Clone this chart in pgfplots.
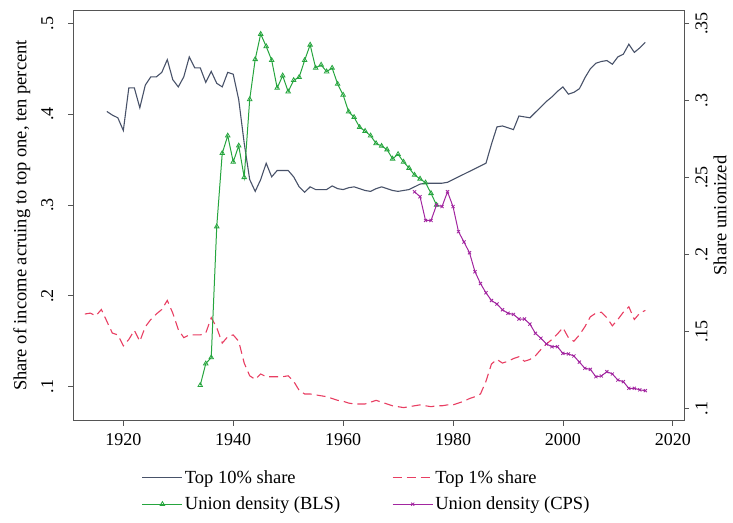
\documentclass[border=0pt]{standalone}
\usepackage{fontspec}
\setmainfont{Liberation Serif}
\usepackage{pgfplots}
\pgfplotsset{compat=1.18}

\definecolor{topten}{RGB}{72,82,105}
\definecolor{topone}{RGB}{232,62,98}
\definecolor{bls}{RGB}{38,165,62}
\definecolor{cps}{RGB}{162,38,160}
\definecolor{frame}{RGB}{85,85,85}

\pgfplotsset{
  common/.style={
    scale only axis, width=611pt, height=410pt,
    xmin=1910.84, xmax=2022.04,
    tick align=outside, major tick length=5pt,
    tick style={frame, line width=0.8pt},
    axis line style={frame, line width=0.9pt},
    tick label style={font=\fontsize{18}{21}\selectfont},
    legend image code/.code={\draw[mark repeat=2,mark phase=2,##1] plot coordinates {(0pt,0pt) (20pt,0pt) (40pt,0pt)};},
  },
  t10/.style={topten, line width=1.1pt},
  t1/.style={topone, line width=1.1pt, dash pattern=on 9pt off 5pt},
  blss/.style={bls, line width=1.0pt, mark=triangle, mark size=2.6pt, mark options={solid, line width=0.8pt}},
  cpss/.style={cps, line width=1.0pt, mark=x, mark size=2.2pt, mark options={solid, line width=0.8pt}},
}

\begin{document}
\begin{tikzpicture}
\path[use as bounding box] (-73pt,-101.5pt) rectangle (660pt,420.5pt);
\begin{axis}[
  common,
  ymin=0.0628, ymax=0.5141,
  xtick={1920,1940,1960,1980,2000,2020},
  xticklabels={1920,1940,1960,1980,2000,2020},
  ytick={0.1,0.2,0.3,0.4,0.5},
  yticklabels={.1,.2,.3,.4,.5},
  xtick pos=left, ytick pos=left,
  yticklabel style={rotate=90, anchor=south},
  yticklabel shift=11pt,
  xticklabel shift=4pt,
  ylabel={Share of income acruing to top one, ten percent},
  every axis y label/.style={at={(axis description cs:-0.0835,0.5)}, rotate=90, anchor=center, font=\fontsize{18.5}{22}\selectfont},
]
\addplot[t10] coordinates {
(1917,0.403) (1918,0.399) (1919,0.396) (1920,0.382) (1921,0.429) (1922,0.429)
(1923,0.407) (1924,0.432) (1925,0.441) (1926,0.441) (1927,0.446) (1928,0.460)
(1929,0.438) (1930,0.430) (1931,0.441) (1932,0.463) (1933,0.451) (1934,0.451)
(1935,0.435) (1936,0.447) (1937,0.434) (1938,0.430) (1939,0.446) (1940,0.444)
(1941,0.416) (1942,0.368) (1943,0.328) (1944,0.315) (1945,0.328) (1946,0.346)
(1947,0.331) (1948,0.338) (1949,0.338) (1950,0.338) (1951,0.331) (1952,0.320)
(1953,0.314) (1954,0.320) (1955,0.317) (1956,0.317) (1957,0.317) (1958,0.321)
(1959,0.318) (1960,0.317) (1961,0.319) (1962,0.320) (1963,0.318) (1964,0.316)
(1965,0.315) (1966,0.318) (1967,0.320) (1968,0.318) (1969,0.316) (1970,0.315)
(1971,0.316) (1972,0.317) (1973,0.320) (1974,0.323) (1975,0.324) (1976,0.324)
(1977,0.324) (1978,0.324) (1979,0.325) (1980,0.328) (1981,0.331) (1982,0.334)
(1983,0.337) (1984,0.340) (1985,0.343) (1986,0.346) (1987,0.367) (1988,0.386)
(1989,0.387) (1990,0.385) (1991,0.383) (1992,0.398) (1993,0.397) (1994,0.396)
(1995,0.402) (1996,0.408) (1997,0.414) (1998,0.419) (1999,0.425) (2000,0.430)
(2001,0.422) (2002,0.424) (2003,0.428) (2004,0.440) (2005,0.450) (2006,0.456)
(2007,0.458) (2008,0.459) (2009,0.455) (2010,0.463) (2011,0.466) (2012,0.477)
(2013,0.468) (2014,0.473) (2015,0.479)
};
\addplot[t1] coordinates {
(1913,0.180) (1914,0.181) (1915,0.178) (1916,0.185) (1917,0.172) (1918,0.159)
(1919,0.157) (1920,0.145) (1921,0.152) (1922,0.162) (1923,0.150) (1924,0.166)
(1925,0.174) (1926,0.180) (1927,0.185) (1928,0.195) (1929,0.181) (1930,0.163)
(1931,0.154) (1932,0.157) (1933,0.157) (1934,0.157) (1935,0.159) (1936,0.176)
(1937,0.165) (1938,0.148) (1939,0.155) (1940,0.157) (1941,0.150) (1942,0.126)
(1943,0.112) (1944,0.108) (1945,0.114) (1946,0.111) (1947,0.111) (1948,0.111)
(1949,0.111) (1950,0.112) (1951,0.106) (1952,0.096) (1953,0.092) (1954,0.092)
(1955,0.091) (1956,0.090) (1957,0.089) (1958,0.087) (1959,0.085) (1960,0.084)
(1961,0.082) (1962,0.081) (1963,0.081) (1964,0.081) (1965,0.083) (1966,0.085)
(1967,0.083) (1968,0.081) (1969,0.079) (1970,0.078) (1971,0.077) (1972,0.078)
(1973,0.079) (1974,0.080) (1975,0.079) (1976,0.078) (1977,0.079) (1978,0.079)
(1979,0.080) (1980,0.080) (1981,0.082) (1982,0.084) (1983,0.087) (1984,0.089)
(1985,0.092) (1986,0.106) (1987,0.125) (1988,0.130) (1989,0.126) (1990,0.128)
(1991,0.131) (1992,0.133) (1993,0.128) (1994,0.130) (1995,0.134) (1996,0.141)
(1997,0.147) (1998,0.152) (1999,0.158) (2000,0.165) (2001,0.154) (2002,0.150)
(2003,0.157) (2004,0.166) (2005,0.177) (2006,0.181) (2007,0.182) (2008,0.176)
(2009,0.167) (2010,0.174) (2011,0.182) (2012,0.188) (2013,0.174) (2014,0.181)
(2015,0.184)
};
\end{axis}
\begin{axis}[
  common,
  ymin=0.0921, ymax=0.3583,
  axis y line*=right, axis x line=none,
  ytick={0.1,0.15,0.2,0.25,0.3,0.35},
  yticklabels={.1,.15,.2,.25,.3,.35},
  yticklabel style={rotate=90, anchor=north},
  yticklabel shift=3pt,
  ylabel={Share unionized},
  every axis y label/.style={at={(axis description cs:1.0590,0.5)}, rotate=90, anchor=center, font=\fontsize{18.5}{22}\selectfont},
  legend columns=2,
  legend style={at={(axis description cs:0.4806,-0.117)}, anchor=north, draw=none, fill=none,
    font=\fontsize{18.5}{22}\selectfont, inner sep=0pt, row sep=8pt,
    /tikz/every even column/.append style={column sep=50pt}},
  legend cell align=left,
]
\addlegendimage{t10}
\addlegendentry{Top 10\% share}
\addlegendimage{t1}
\addlegendentry{Top 1\% share}
\addplot[blss] coordinates {
(1934,0.115) (1935,0.129) (1936,0.133) (1937,0.218) (1938,0.2656) (1939,0.277)
(1940,0.260) (1941,0.2705) (1942,0.250) (1943,0.3006) (1944,0.3266) (1945,0.343)
(1946,0.335) (1947,0.326) (1948,0.308) (1949,0.316) (1950,0.3056) (1951,0.313)
(1952,0.315) (1953,0.326) (1954,0.336) (1955,0.321) (1956,0.323) (1957,0.3186)
(1958,0.321) (1959,0.3106) (1960,0.3035) (1961,0.2926) (1962,0.289) (1963,0.2825)
(1964,0.280) (1965,0.277) (1966,0.272) (1967,0.2703) (1968,0.268) (1969,0.262)
(1970,0.265) (1971,0.260) (1972,0.256) (1973,0.2515) (1974,0.249) (1975,0.2465)
(1976,0.2396) (1977,0.232)
};
\addlegendentry{Union density (BLS)}
\addplot[cpss] coordinates {
(1973,0.2406) (1974,0.2374) (1975,0.222) (1976,0.222) (1977,0.232) (1978,0.231)
(1979,0.2406) (1980,0.231) (1981,0.2147) (1982,0.208) (1983,0.201) (1984,0.1887)
(1985,0.181) (1986,0.175) (1987,0.170) (1988,0.1677) (1989,0.164) (1990,0.1617)
(1991,0.161) (1992,0.158) (1993,0.158) (1994,0.1547) (1995,0.1487) (1996,0.1455)
(1997,0.1418) (1998,0.140) (1999,0.140) (2000,0.1357) (2001,0.1353) (2002,0.134)
(2003,0.130) (2004,0.126) (2005,0.1253) (2006,0.1205) (2007,0.121) (2008,0.1238)
(2009,0.1223) (2010,0.1184) (2011,0.1173) (2012,0.113) (2013,0.113) (2014,0.112)
(2015,0.1115)
};
\addlegendentry{Union density (CPS)}
\end{axis}
\end{tikzpicture}
\end{document}
